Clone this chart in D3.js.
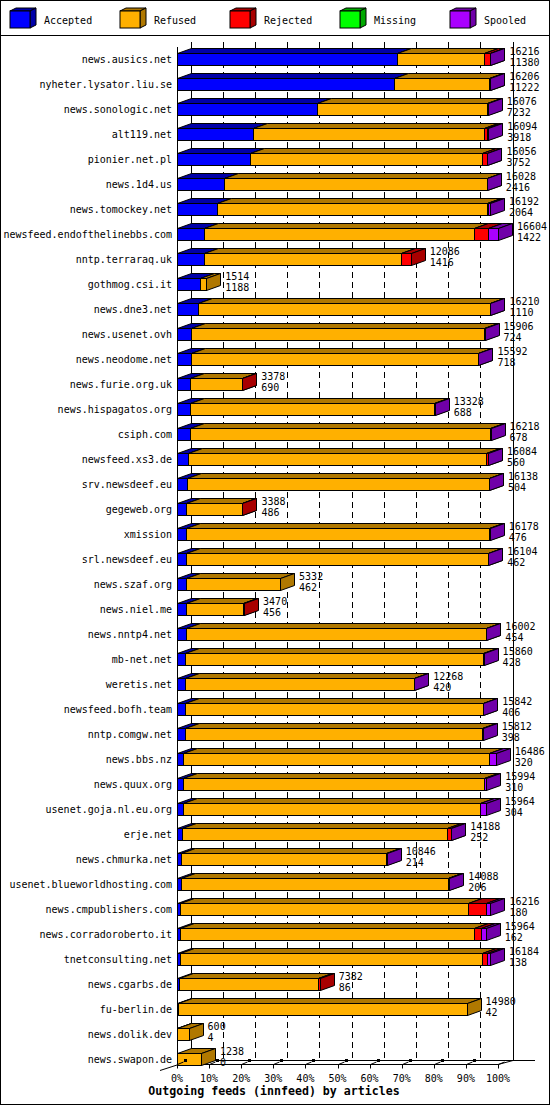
<!DOCTYPE html>
<html>
<head>
<meta charset="utf-8">
<script src="https://cdn.jsdelivr.net/npm/d3@7"></script>
<style>
  html, body { margin: 0; padding: 0; background: #fff; }
  svg { display: block; }
  text { font-family: "DejaVu Sans Mono", "Liberation Mono", monospace; font-size: 10px; fill: #000; }
</style>
</head>
<body>
<svg id="chart" width="550" height="1105"></svg>
<script>
const categories = [
  "news.ausics.net","nyheter.lysator.liu.se","news.sonologic.net","alt119.net","pionier.net.pl",
  "news.1d4.us","news.tomockey.net","newsfeed.endofthelinebbs.com","nntp.terraraq.uk","gothmog.csi.it",
  "news.dne3.net","news.usenet.ovh","news.neodome.net","news.furie.org.uk","news.hispagatos.org",
  "csiph.com","newsfeed.xs3.de","srv.newsdeef.eu","gegeweb.org","xmission",
  "srl.newsdeef.eu","news.szaf.org","news.niel.me","news.nntp4.net","mb-net.net",
  "weretis.net","newsfeed.bofh.team","nntp.comgw.net","news.bbs.nz","news.quux.org",
  "usenet.goja.nl.eu.org","erje.net","news.chmurka.net","usenet.blueworldhosting.com","news.cmpublishers.com",
  "news.corradoroberto.it","tnetconsulting.net","news.cgarbs.de","fu-berlin.de","news.dolik.dev",
  "news.swapon.de"
];
const accepted = [11380,11222,7232,3918,3752,2416,2064,1422,1416,1188,1110,724,718,690,688,678,560,504,486,476,462,462,456,454,428,420,406,398,320,310,304,252,214,206,180,162,138,86,42,4,0];
const refused  = [4517,4894,8824,11986,12044,13602,13988,13942,10190,326,15080,15162,14854,2648,12620,15520,15404,15614,2862,15682,15622,4870,2974,15528,15412,11828,15411,15394,15836,15594,15380,13701,10612,13802,14889,15217,15624,7196,14938,596,1238];
const rejected = [300,50,0,130,250,0,30,708,480,0,0,0,0,40,0,0,100,0,40,0,0,0,40,0,0,0,0,0,0,0,0,220,0,30,900,347,259,100,0,0,0];
const missing  = [0,0,0,0,0,0,0,0,0,0,0,0,0,0,0,0,0,0,0,0,0,0,0,0,0,0,0,0,0,0,0,0,0,0,0,0,0,0,0,0,0];
const spooled  = [19,40,20,60,10,10,110,532,0,0,20,20,20,0,20,20,20,20,0,20,20,0,0,20,20,20,25,20,330,90,280,15,20,50,247,238,163,0,0,0,0];
const seriesNames = ["Accepted","Refused","Rejected","Missing","Spooled"];
const frontColors = ["#0000ff","#ffb000","#ff0000","#00ff00","#aa00ff"];
const darkColors  = ["#0000a8","#b07800","#a80000","#00a800","#7000a8"];
const tickLabels = ["0%","10%","20%","30%","40%","50%","60%","70%","80%","90%","100%"];
const titleText = "Outgoing feeds (innfeed) by articles";

const seriesValues = [accepted, refused, rejected, missing, spooled];
const totals = categories.map((c, i) => d3.sum(seriesValues, s => s[i]));
const maxTotal = d3.max(totals);

const svg = d3.select("#chart");
const DX = 14, DY = 5;

const x = d3.scaleLinear().domain([0, maxTotal]).range([177, 498]);
const pct = d3.scaleLinear().domain([0, 100]).range([177, 498]);
const y = d3.scaleBand().domain(categories).range([46.35, 1071.35]).paddingInner(0.508).paddingOuter(0.254);

const floorBack = 1060.5, floorFront = 1064.5, wallTop = 42;

// outer border
svg.append("rect").attr("x", 0.5).attr("y", 0.5).attr("width", 549).attr("height", 1104)
  .attr("fill", "#fff").attr("stroke", "#000");

// legend
svg.append("line").attr("x1", 0).attr("x2", 550).attr("y1", 35.5).attr("y2", 35.5).attr("stroke", "#000");
const leg = svg.append("g");
seriesNames.forEach((name, i) => {
  const lx = 10 + 110 * i, ly = 11, lw = 20, lh = 17, ldx = 6, ldy = 3;
  leg.append("polygon")
    .attr("points", [[lx, ly], [lx + ldx, ly - ldy], [lx + lw + ldx, ly - ldy], [lx + lw, ly]].join(" "))
    .attr("fill", darkColors[i]).attr("stroke", "#000");
  leg.append("polygon")
    .attr("points", [[lx + lw, ly], [lx + lw + ldx, ly - ldy], [lx + lw + ldx, ly + lh - ldy], [lx + lw, ly + lh]].join(" "))
    .attr("fill", darkColors[i]).attr("stroke", "#000");
  leg.append("rect").attr("x", lx).attr("y", ly).attr("width", lw).attr("height", lh)
    .attr("fill", frontColors[i]).attr("stroke", "#000");
  leg.append("text").attr("x", 44 + 110 * i).attr("y", 24).text(name);
});

// grid (back wall dashed lines)
const grid = svg.append("g").attr("shape-rendering", "crispEdges");
tickLabels.forEach((t, k) => {
  if (k === 0 || k === tickLabels.length - 1) return;
  const gx = Math.round(pct(k * 10) + DX) + 0.5;
  grid.append("line").attr("x1", gx).attr("x2", gx).attr("y1", wallTop).attr("y2", floorBack)
    .attr("stroke", "#000").attr("stroke-dasharray", "6,4");
});
// walls
grid.append("line").attr("x1", 191.5).attr("x2", 191.5).attr("y1", wallTop).attr("y2", floorBack).attr("stroke", "#000");
grid.append("line").attr("x1", 177.5).attr("x2", 177.5).attr("y1", wallTop + DY).attr("y2", floorFront).attr("stroke", "#000");
grid.append("line").attr("x1", 513.5).attr("x2", 513.5).attr("y1", wallTop).attr("y2", floorBack).attr("stroke", "#000");
// floor
grid.append("line").attr("x1", 191).attr("x2", 535).attr("y1", floorBack).attr("y2", floorBack).attr("stroke", "#000");
grid.append("line").attr("x1", 177).attr("x2", 498).attr("y1", floorFront).attr("y2", floorFront).attr("stroke", "#000");
svg.append("line").attr("x1", 191).attr("y1", floorBack).attr("x2", 160).attr("y2", 1070.5).attr("stroke", "#000");
svg.append("line").attr("x1", 513).attr("y1", floorBack).attr("x2", 498).attr("y2", floorFront).attr("stroke", "#000");

// bars
const bars = svg.append("g").attr("stroke-linejoin", "miter");
categories.forEach((cat, i) => {
  const yt = Math.round(y(cat)) + 0.5;
  const yb = yt + 12;
  let cum = 0;
  seriesValues.forEach((s, si) => {
    const v = s[i];
    if (v <= 0) return;
    const x0 = Math.round(x(cum)) + 0.5;
    cum += v;
    const x1 = Math.round(x(cum)) + 0.5;
    bars.append("polygon")
      .attr("points", [[x0, yt], [x0 + DX, yt - DY], [x1 + DX, yt - DY], [x1, yt]].join(" "))
      .attr("fill", darkColors[si]).attr("stroke", "#000");
    bars.append("polygon")
      .attr("points", [[x1, yt], [x1 + DX, yt - DY], [x1 + DX, yb - DY], [x1, yb]].join(" "))
      .attr("fill", darkColors[si]).attr("stroke", "#000");
    bars.append("rect").attr("x", x0).attr("y", yt).attr("width", x1 - x0).attr("height", yb - yt)
      .attr("fill", frontColors[si]).attr("stroke", "#000");
  });
  // category label
  svg.append("text").attr("x", 172).attr("y", yt + 9.3).attr("text-anchor", "end").text(cat);
  // values
  const tx = x(totals[i]) + DX + 5;
  svg.append("text").attr("x", tx).attr("y", yt + 1.3).text(totals[i]);
  svg.append("text").attr("x", tx).attr("y", yb).text(accepted[i]);
});

// x ticks
const ticks = svg.append("g");
tickLabels.forEach((t, k) => {
  const tx = Math.round(pct(k * 10)) + 0.5;
  ticks.append("line").attr("x1", tx).attr("x2", tx).attr("y1", floorFront).attr("y2", 1068.5).attr("stroke", "#000");
  ticks.append("line").attr("x1", tx).attr("y1", floorFront).attr("x2", tx + 6).attr("y2", 1062).attr("stroke", "#000");
  if (k < tickLabels.length - 1) {
    ticks.append("rect").attr("x", tx + 6.5).attr("y", 1059).attr("width", 3).attr("height", 3).attr("fill", "#000");
  }
  ticks.append("text").attr("x", pct(k * 10)).attr("y", 1082).attr("text-anchor", "middle").text(t);
});

// title
svg.append("text").attr("x", 274).attr("y", 1095).attr("text-anchor", "middle")
  .style("font-weight", "bold").style("font-size", "11.6px").text(titleText);
</script>
</body>
</html>
